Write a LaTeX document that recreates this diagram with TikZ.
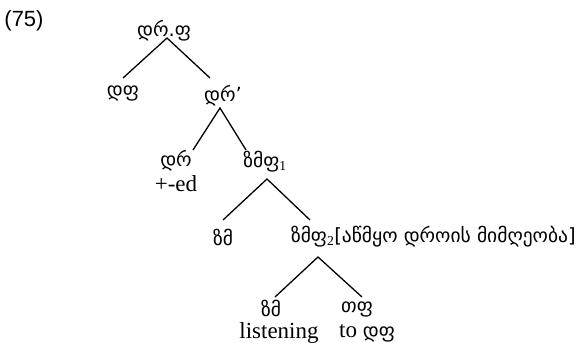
\documentclass[tikz,border=0pt]{standalone}
\usepackage{fontspec}
\setmainfont{Liberation Serif}
\newfontfamily\geo{DejaVu Sans}
\newfontfamily\lab{Liberation Sans}
\begin{document}
\begin{tikzpicture}[x=1pt,y=-1pt,
  every node/.style={inner sep=0pt,outer sep=0pt},
  ka/.style={font=\geo\fontsize{19.5}{20}\selectfont},
  la/.style={font=\fontsize{23}{23}\selectfont},
  br/.style={line width=1.3pt}]
\useasboundingbox (0,0) rectangle (586,345);
\node[font=\lab\fontsize{22}{22}\selectfont] (num) at (24,21) {(75)};
\node[ka] (top) at (164,31) {დრ.ფ};
\node[ka] (df) at (123,93) {დფ};
\node[ka] (dr1) at (223,96) {დრ’};
\node[ka] (dr) at (176,161) {დრ};
\node[la] (ed) at (176,184) {+-ed};
\node[ka] (zmf1) at (265,162) {ზმფ\textsubscript{\rmfamily 1}};
\node[ka] (zm) at (223,237) {ზმ};
\node[ka,anchor=west] (zmf2) at (291,237) {ზმფ\textsubscript{\rmfamily 2}};
\node[ka,anchor=west] (gloss) at (zmf2.east) {[აწმყო დროის მიმღეობა]};
\node[ka] (zm2) at (271,308) {ზმ};
\node[la] (lis) at (279,333) {listening};
\node[ka] (tf) at (357,309) {თფ};
\node[la] (to) at (367,333) {to {\geo\fontsize{19.5}{20}\selectfont დფ}};
\coordinate (a0) at (167,38);
\coordinate (a1) at (220,108);
\coordinate (a2) at (267,179);
\coordinate (a3) at (318,257);
\coordinate (b0) at (123,78);
\coordinate (c0) at (210,78);
\coordinate (b1) at (193,150);
\coordinate (c1) at (246,150);
\coordinate (b2) at (223,220);
\coordinate (c2) at (310,220);
\coordinate (b3) at (275,297);
\coordinate (c3) at (362,297);
\draw[br] (b0) -- (a0) -- (c0);
\draw[br] (b1) -- (a1) -- (c1);
\draw[br] (b2) -- (a2) -- (c2);
\draw[br] (b3) -- (a3) -- (c3);
\end{tikzpicture}
\end{document}
